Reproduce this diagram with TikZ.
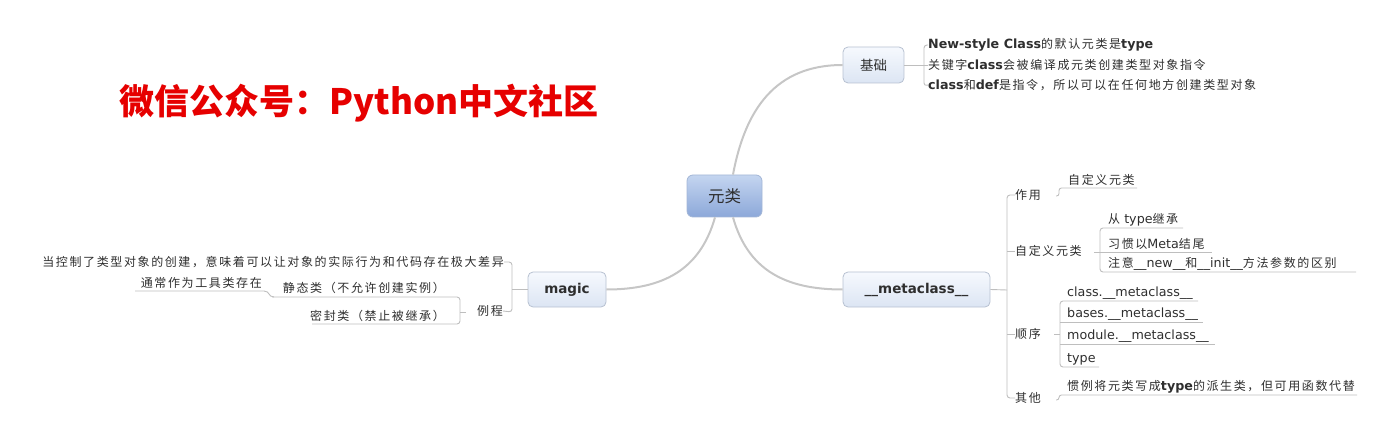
\documentclass[tikz,border=0pt]{standalone}
\usepackage{fontspec}
\setmainfont{DejaVu Sans}
\newfontfamily\cjkfont{Noto Sans CJK SC}[Scale=0.945,LetterSpace=13.5]
\newfontfamily\boxcjk{Noto Sans CJK SC}
\newfontfamily\titlefont{Noto Sans CJK SC}
\newcommand\zh[1]{{\cjkfont #1}}
\usetikzlibrary{calc}

\definecolor{txt}{HTML}{2E2E2E}
\definecolor{lnc}{HTML}{BEBEBE}
\definecolor{mainln}{HTML}{C6C6C6}
\definecolor{boxb}{HTML}{B7C1D1}
\definecolor{boxt}{HTML}{F6F9FE}
\definecolor{boxbot}{HTML}{DCE5F3}
\definecolor{ctop}{HTML}{C4D5F0}
\definecolor{cbot}{HTML}{8CA8D9}
\definecolor{cbord}{HTML}{A3B6D6}
\definecolor{titlered}{HTML}{E60000}

\tikzset{
  txtn/.style={inner sep=0pt, text=txt, font=\fontsize{12.7}{14}\selectfont},
  topicbox/.style={draw=boxb, line width=0.8pt, rounded corners=5pt,
    top color=boxt, bottom color=boxbot, text=txt, inner sep=0pt},
  rootbox/.style={draw=cbord, line width=0.8pt, rounded corners=6pt,
    top color=ctop, bottom color=cbot, text=txt, inner sep=0pt},
  br/.style={draw=lnc, line width=0.9pt, rounded corners=3pt},
  mainc/.style={draw=mainln, line width=2pt},
}

\begin{document}
\begin{tikzpicture}[x=1pt,y=-1pt]
\useasboundingbox (0,0) rectangle (1394,446);

% title
\node[inner sep=0pt, text=titlered, font=\titlefont\bfseries\fontsize{35}{40}\selectfont] (title) at (359,103) {微信公众号：Python中文社区};

% central and main topics
\node[rootbox, minimum width=75pt, minimum height=42pt, font=\boxcjk\fontsize{16.5}{18}\selectfont] (root) at (724.5,196) {元类};
\node[topicbox, minimum width=61pt, minimum height=36pt, font=\boxcjk\fontsize{13.5}{16}\selectfont] (jc) at (873.5,65) {基础};
\node[topicbox, minimum width=147pt, minimum height=35pt, font=\bfseries\fontsize{13.5}{16}\selectfont] (meta) at (916.5,289.5) {\_\_metaclass\_\_};
\node[topicbox, minimum width=78pt, minimum height=35pt, font=\bfseries\fontsize{13.5}{16}\selectfont] (magic) at (567,289.5) {magic};

\coordinate (rtop) at ($(root.north)+(8.5,0)$);
\coordinate (rbr) at ($(root.south)+(8.5,0)$);
\coordinate (rbl) at ($(root.south)+(-9.5,0)$);
\draw[mainc] (rtop) .. controls (745,110) and (775,65) .. (jc.west);
\draw[mainc] (rbr) .. controls (748,270) and (785,289.5) .. (meta.west);
\draw[mainc] (rbl) .. controls (700,270) and (663,289.5) .. (magic.east);

% 基础 children
\node[txtn, anchor=west] (j1) at (928,45) {{\bfseries New-style Class}\zh{的默认元类是}{\bfseries type}};
\node[txtn, anchor=west] (j2) at (928,65) {\zh{关键字}{\bfseries class}\zh{会被编译成元类创建类型对象指令}};
\node[txtn, anchor=west] (j3) at (928,85) {{\bfseries class}\zh{和}{\bfseries def}\zh{是指令，所以可以在任何地方创建类型对象}};
\coordinate (jb) at (924,65);
\draw[br] (jc.east) -- (jb);
\draw[br] (j1.west) -- (924,45) -- (924,86) -- (j3.west);
\draw[br] (jb) -- (j2.west);

% __metaclass__ children
\node[txtn, anchor=west] (zy) at (1015,195) {\zh{作用}};
\node[txtn, anchor=west] (zd) at (1015,251) {\zh{自定义元类}};
\node[txtn, anchor=west] (sx) at (1015,334) {\zh{顺序}};
\node[txtn, anchor=west] (qt) at (1015,398) {\zh{其他}};
\coordinate (mb) at (1007,290);
\draw[br] (meta.east) -- (mb);
\draw[br] (zy.west) -- (1007,195) -- (1007,398) -- (qt.west);
\draw[br] (1007,251) -- (zd.west);
\draw[br] (1007,334) -- (sx.west);

% 作用 -> 自定义元类
\node[txtn, anchor=west] (zy1) at (1068,180) {\zh{自定义元类}};
\draw[br, rounded corners=2.5pt] (1056,196) -- (1059,196) -- (1059,188) -- (1064,188) -- (1137,188);

% 自定义元类 children
\node[txtn, anchor=west] (zd1) at (1108,220) {\zh{从} type\zh{继承}};
\node[txtn, anchor=west] (zd2) at (1108,244) {\zh{习惯以}Meta\zh{结尾}};
\node[txtn, anchor=west] (zd3) at (1108,264) {\zh{注意}\_\_new\_\_\zh{和}\_\_init\_\_\zh{方法参数的区别}};
\draw[br] (1094,252) -- (1100,252);
\draw[br] (1183,228) -- (1100,228) -- (1100,272) -- (1356,272);
\draw[br] (1100,252) -- (1212,252);

% 顺序 children
\node[txtn, anchor=west] (sx1) at (1067,293) {class.\_\_metaclass\_\_};
\node[txtn, anchor=west] (sx2) at (1067,314) {bases.\_\_metaclass\_\_};
\node[txtn, anchor=west] (sx3) at (1067,336) {module.\_\_metaclass\_\_};
\node[txtn, anchor=west] (sx4) at (1067,359) {type};
\draw[br] (1054,334) -- (1060,334);
\draw[br] (1198,301) -- (1060,301) -- (1060,367) -- (1099,367);
\draw[br] (1060,322) -- (1203,322);
\draw[br] (1060,344) -- (1215,344);

% 其他 child
\node[txtn, anchor=west] (qt1) at (1067,387) {\zh{惯例将元类写成}{\bfseries type}\zh{的派生类，但可用函数代替}};
\draw[br, rounded corners=2.5pt] (1056,400) -- (1059,400) -- (1059,395) -- (1064,395) -- (1357,395);

% magic children
\node[txtn, anchor=east] (mg1) at (504,262) {\zh{当控制了类型对象的创建，意味着可以让对象的实际行为和代码存在极大差异}};
\node[txtn, anchor=east] (lc) at (503,311) {\zh{例程}};
\coordinate (mgb) at (512,289.5);
\draw[br] (magic.west) -- (mgb);
\draw[br] (mg1.east) -- (512,262) -- (512,312) -- (lc.east);

% 例程 children
\node[txtn, anchor=east] (lc1) at (445,288) {\zh{静态类（不允许创建实例）}};
\node[txtn, anchor=east] (lc2) at (445,316) {\zh{密封类（禁止被继承）}};
\draw[br] (466,312) -- (460,312);
\draw[br] (272,297) -- (460,297) -- (460,324) -- (312,324);

% 静态类 child
\node[txtn, anchor=east] (lc11) at (262,283) {\zh{通常作为工具类存在}};
\draw[br, rounded corners=0pt] (135,291) -- (264,291) .. controls (270,291) and (268,297) .. (274,297);
\end{tikzpicture}
\end{document}
